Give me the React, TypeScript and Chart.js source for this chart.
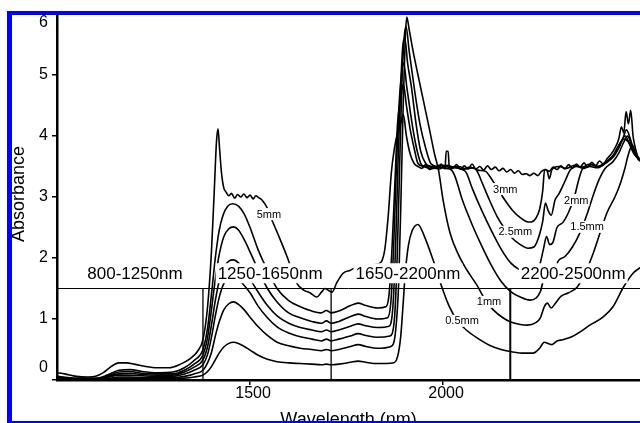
import { useEffect, useRef } from 'react';
import { Chart, registerables } from 'chart.js';

Chart.register(...registerables);

// ---- Data (wavelength nm, absorbance) ----
const curve5mm: number[][] = [
  [1000,0.12],[1020,0.10],[1050,0.06],[1080,0.05],[1100,0.06],[1120,0.12],[1140,0.22],[1160,0.28],[1180,0.28],[1200,0.26],
  [1230,0.22],[1260,0.20],[1290,0.20],[1320,0.26],[1345,0.35],[1365,0.48],[1378,0.66],[1390,1.2],[1400,2.1],[1408,3.2],
  [1413,3.9],[1417,4.12],[1421,3.8],[1426,3.4],[1432,3.15],[1438,3.08],[1445,3.02],[1452,3.06],[1460,2.98],[1468,3.04],
  [1476,3.0],[1484,3.05],[1492,2.99],[1500,3.03],[1508,2.97],[1515,3.02],[1522,2.99],[1531,2.95],[1547,2.79],[1557,2.62],
  [1575,2.35],[1596,2.02],[1621,1.59],[1640,1.47],[1655,1.43],[1673,1.36],[1685,1.44],[1694,1.5],[1703,1.47],[1712,1.44],
  [1725,1.6],[1741,1.75],[1760,1.8],[1775,1.85],[1800,1.88],[1830,1.9],[1848,2.1],[1858,2.7],[1866,3.4],[1874,3.8],
  [1882,4.05],[1890,4.2],[1897,4.35],[1905,4.0],[1915,3.7],[1925,3.55],[1935,3.5],[1945,3.47],[1955,3.53],[1965,3.45],
  [1975,3.51],[1985,3.47],[1995,3.54],[2005,3.46],[2008,3.75],[2013,3.75],[2016,3.5],[2025,3.47],[2035,3.53],[2045,3.46],
  [2055,3.51],[2065,3.46],[2075,3.54],[2085,3.46],[2095,3.5],[2105,3.44],[2115,3.51],[2125,3.45],[2135,3.49],[2145,3.43],
  [2155,3.47],[2165,3.41],[2175,3.45],[2185,3.39],[2195,3.43],[2205,3.37],[2215,3.38],[2225,3.35],[2235,3.39],[2245,3.35],
  [2255,3.42],[2265,3.45],[2275,3.42],[2285,3.49],[2295,3.45],[2305,3.51],[2315,3.46],[2325,3.53],[2335,3.47],[2345,3.54],
  [2355,3.49],[2365,3.56],[2375,3.49],[2385,3.57],[2395,3.51],[2405,3.59],[2415,3.54],[2425,3.63],[2435,3.7],[2445,3.8],
  [2455,3.95],[2462,4.15],[2468,4.05],[2474,4.4],[2480,4.2],[2486,4.42],[2492,4.0],[2498,3.8],[2505,3.65],[2512,3.6],
];

const curve3mm: number[][] = [
  [1000,0.06],[1050,0.03],[1100,0.03],[1130,0.08],[1160,0.16],[1190,0.17],[1220,0.14],[1260,0.12],[1300,0.13],[1330,0.2],
  [1355,0.32],[1378,0.5],[1390,0.85],[1400,1.4],[1410,2.0],[1420,2.45],[1430,2.7],[1442,2.85],[1455,2.89],[1470,2.85],
  [1485,2.72],[1500,2.5],[1520,2.15],[1545,1.8],[1570,1.5],[1600,1.3],[1630,1.2],[1660,1.13],[1685,1.1],[1698,1.14],
  [1710,1.1],[1730,1.13],[1760,1.22],[1780,1.26],[1800,1.22],[1830,1.18],[1852,1.2],[1860,1.4],[1868,2.2],[1875,3.2],
  [1882,4.2],[1890,4.6],[1897,4.85],[1905,4.5],[1915,4.1],[1925,3.8],[1935,3.55],[1950,3.5],[1970,3.46],[1990,3.52],
  [2010,3.47],[2030,3.5],[2050,3.45],[2070,3.49],[2090,3.44],[2110,3.42],[2125,3.3],[2140,3.15],[2160,2.95],[2180,2.78],
  [2200,2.66],[2215,2.6],[2228,2.59],[2240,2.65],[2250,2.8],[2258,3.1],[2263,3.45],[2270,3.42],[2275,3.3],[2282,3.45],
  [2300,3.5],[2320,3.47],[2340,3.52],[2360,3.49],[2380,3.54],[2400,3.5],[2420,3.57],[2440,3.68],[2455,3.85],[2465,3.95],
  [2475,4.1],[2485,3.95],[2495,3.75],[2505,3.62],[2512,3.58],
];

const curve25mm: number[][] = [
  [1000,0.05],[1050,0.02],[1100,0.02],[1130,0.06],[1160,0.13],[1190,0.14],[1220,0.11],[1260,0.1],[1300,0.1],[1330,0.16],
  [1355,0.26],[1378,0.41],[1390,0.7],[1400,1.15],[1410,1.65],[1420,2.05],[1432,2.35],[1445,2.48],[1457,2.51],[1470,2.46],
  [1485,2.3],[1500,2.1],[1520,1.82],[1545,1.5],[1570,1.28],[1600,1.1],[1630,1.02],[1660,0.96],[1685,0.93],[1698,0.97],
  [1710,0.93],[1730,0.96],[1760,1.04],[1780,1.08],[1800,1.04],[1830,1.0],[1856,1.02],[1865,1.3],[1872,2.2],[1878,3.3],
  [1885,4.4],[1892,5.0],[1898,5.2],[1906,4.8],[1915,4.4],[1925,4.0],[1935,3.7],[1945,3.52],[1960,3.5],[1980,3.47],
  [2000,3.52],[2020,3.48],[2040,3.5],[2060,3.46],[2080,3.48],[2090,3.4],[2100,3.25],[2120,2.95],[2140,2.68],[2160,2.48],
  [2180,2.32],[2200,2.22],[2220,2.16],[2235,2.18],[2248,2.35],[2258,2.6],[2265,2.9],[2272,2.78],[2280,2.7],[2290,2.95],
  [2300,3.05],[2315,3.25],[2330,3.45],[2345,3.5],[2365,3.47],[2385,3.53],[2405,3.5],[2425,3.58],[2445,3.7],[2460,3.9],
  [2472,4.0],[2482,3.88],[2495,3.7],[2512,3.6],
];

const curve2mm: number[][] = [
  [1000,0.04],[1050,0.02],[1100,0.02],[1130,0.05],[1160,0.1],[1190,0.11],[1220,0.09],[1260,0.08],[1300,0.08],[1330,0.13],
  [1355,0.21],[1378,0.33],[1390,0.55],[1400,0.9],[1410,1.3],[1420,1.62],[1432,1.85],[1445,1.95],[1457,1.97],[1470,1.92],
  [1485,1.78],[1500,1.65],[1520,1.45],[1545,1.22],[1570,1.05],[1600,0.93],[1630,0.86],[1660,0.82],[1685,0.79],[1698,0.82],
  [1710,0.79],[1730,0.82],[1760,0.88],[1780,0.92],[1800,0.89],[1830,0.86],[1860,0.88],[1870,1.2],[1877,2.2],[1883,3.5],
  [1890,4.8],[1896,5.5],[1901,5.6],[1908,5.2],[1918,4.8],[1930,4.2],[1942,3.75],[1955,3.55],[1970,3.5],[1990,3.46],
  [2010,3.52],[2030,3.48],[2050,3.45],[2060,3.4],[2075,3.15],[2100,2.78],[2125,2.45],[2150,2.15],[2175,1.92],[2200,1.8],
  [2225,1.72],[2240,1.76],[2250,1.88],[2260,2.15],[2268,2.35],[2276,2.22],[2284,2.25],[2295,2.5],[2310,2.58],[2325,2.75],
  [2340,3.0],[2352,3.3],[2362,3.47],[2380,3.5],[2400,3.48],[2420,3.55],[2440,3.65],[2455,3.8],[2468,3.95],[2480,3.9],
  [2492,3.75],[2505,3.65],[2512,3.6],
];

const curve15mm: number[][] = [
  [1000,0.03],[1050,0.01],[1100,0.01],[1130,0.04],[1160,0.08],[1190,0.08],[1220,0.07],[1260,0.06],[1300,0.06],[1330,0.1],
  [1355,0.16],[1378,0.25],[1390,0.42],[1400,0.7],[1410,1.05],[1420,1.35],[1432,1.58],[1445,1.68],[1457,1.7],[1470,1.65],
  [1485,1.55],[1500,1.43],[1520,1.22],[1545,1.02],[1570,0.87],[1600,0.77],[1630,0.71],[1660,0.67],[1685,0.64],[1698,0.67],
  [1710,0.64],[1730,0.67],[1760,0.72],[1780,0.76],[1800,0.73],[1830,0.7],[1862,0.72],[1874,1.0],[1881,2.0],[1887,3.4],
  [1893,4.8],[1899,5.6],[1904,5.8],[1912,5.4],[1925,4.8],[1940,4.2],[1955,3.8],[1968,3.55],[1985,3.5],[2005,3.47],
  [2020,3.45],[2030,3.35],[2050,2.95],[2075,2.55],[2100,2.2],[2125,1.88],[2150,1.62],[2175,1.45],[2200,1.36],[2225,1.31],
  [2240,1.34],[2252,1.45],[2262,1.7],[2270,1.82],[2278,1.7],[2287,1.74],[2298,1.95],[2315,2.02],[2335,2.18],[2355,2.42],
  [2373,2.72],[2390,3.05],[2405,3.3],[2420,3.47],[2440,3.58],[2455,3.72],[2468,3.9],[2478,4.0],[2490,3.8],[2502,3.65],
  [2512,3.6],
];

const curve1mm: number[][] = [
  [1000,0.02],[1050,0.01],[1100,0.0],[1130,0.02],[1160,0.05],[1190,0.05],[1220,0.04],[1260,0.04],[1300,0.04],[1330,0.06],
  [1355,0.1],[1378,0.16],[1390,0.28],[1400,0.45],[1410,0.72],[1420,0.95],[1432,1.15],[1445,1.25],[1457,1.28],[1470,1.24],
  [1485,1.15],[1500,1.03],[1520,0.88],[1545,0.73],[1570,0.62],[1600,0.56],[1630,0.52],[1660,0.5],[1685,0.48],[1698,0.5],
  [1710,0.48],[1730,0.5],[1760,0.55],[1780,0.58],[1800,0.55],[1830,0.52],[1865,0.55],[1877,0.8],[1885,1.6],[1891,3.0],
  [1897,4.6],[1902,5.6],[1906,5.95],[1912,5.75],[1922,5.4],[1935,5.0],[1950,4.55],[1965,4.1],[1978,3.7],[1988,3.45],
  [2000,2.95],[2018,2.41],[2040,2.05],[2060,1.82],[2088,1.55],[2110,1.3],[2130,1.15],[2155,1.02],[2175,0.95],[2200,0.91],
  [2218,0.9],[2240,0.94],[2252,1.02],[2262,1.2],[2270,1.26],[2280,1.18],[2290,1.25],[2305,1.37],[2325,1.43],[2347,1.52],
  [2370,1.78],[2390,2.1],[2406,2.4],[2425,2.75],[2445,3.0],[2458,3.2],[2470,3.45],[2480,3.7],[2490,3.85],[2500,3.7],
  [2512,3.6],
];

const curve05mm: number[][] = [
  [1000,0.01],[1050,0.0],[1100,0.0],[1130,0.01],[1160,0.03],[1190,0.03],[1220,0.02],[1260,0.02],[1300,0.02],[1330,0.03],
  [1355,0.05],[1378,0.08],[1390,0.14],[1400,0.22],[1410,0.33],[1420,0.44],[1432,0.54],[1445,0.6],[1457,0.62],[1470,0.6],
  [1485,0.55],[1500,0.49],[1520,0.41],[1545,0.34],[1570,0.3],[1600,0.28],[1630,0.27],[1660,0.26],[1685,0.25],[1698,0.26],
  [1710,0.25],[1730,0.26],[1760,0.29],[1780,0.31],[1800,0.29],[1830,0.27],[1870,0.28],[1882,0.38],[1890,0.7],[1896,1.2],
  [1902,1.75],[1910,2.2],[1920,2.45],[1935,2.55],[1950,2.38],[1974,1.97],[1997,1.52],[2015,1.22],[2036,0.98],[2060,0.82],
  [2088,0.69],[2120,0.57],[2150,0.5],[2180,0.46],[2210,0.44],[2233,0.44],[2250,0.52],[2262,0.62],[2272,0.6],[2282,0.58],
  [2295,0.64],[2310,0.66],[2330,0.7],[2355,0.79],[2380,0.9],[2414,1.03],[2440,1.2],[2467,1.52],[2492,1.75],[2512,1.85],
];

// Curve labels
const curveLabelText = ['5mm', '3mm', '2.5mm', '2mm', '1.5mm', '1mm', '0.5mm'];
const curveLabelWl = [1549, 2161, 2187, 2345, 2373, 2119, 2049];
const curveLabelAbs = [2.72, 3.13, 2.43, 2.95, 2.51, 1.28, 0.97];

// Region labels and dividers
const regionLabelText = ['800-1250nm', '1250-1650nm', '1650-2200nm', '2200-2500nm'];
const regionLabelWl = [1202, 1552, 1909, 2337];
const regionLabelAbs = 1.75;
const dividerWl = [1378, 1710, 2174];
const dividerAbs = 1.5;

// Axes
const xMin = 1000;
const xMax = 2510;
const xTickValues = [1500, 2000];
const yTickValues = [0, 1, 2, 3, 4, 5, 6];

const FONT = '"Liberation Sans", Arial, Helvetica, sans-serif';

export default function App() {
  const ref = useRef<HTMLCanvasElement>(null);

  useEffect(() => {
    const canvas = ref.current;
    if (!canvas) return;
    const curves = [curve5mm, curve3mm, curve25mm, curve2mm, curve15mm, curve1mm, curve05mm];
    const datasets: any[] = curves.map((c) => ({
      data: c.map((p) => ({ x: p[0], y: p[1] })),
      borderColor: '#000',
      borderWidth: 1.6,
      pointRadius: 0,
      fill: false,
      cubicInterpolationMode: 'monotone',
    }));
    datasets.push({
      data: [{ x: xMin, y: dividerAbs }, { x: xMax, y: dividerAbs }],
      borderColor: '#000',
      borderWidth: 1,
      pointRadius: 0,
      fill: false,
    });
    dividerWl.forEach((w, i) => {
      datasets.push({
        data: [{ x: w, y: 0 }, { x: w, y: dividerAbs }],
        borderColor: '#000',
        borderWidth: i === 2 ? 2 : 1.3,
        pointRadius: 0,
        fill: false,
      });
    });

    const annot = {
      id: 'annot',
      afterDatasetsDraw(chart: any) {
        const ctx = chart.ctx;
        const xs = chart.scales.x;
        const ys = chart.scales.y;
        ctx.save();
        ctx.textAlign = 'center';
        ctx.textBaseline = 'middle';
        ctx.font = `17px ${FONT}`;
        regionLabelText.forEach((t, i) => {
          const px = xs.getPixelForValue(regionLabelWl[i]);
          const py = ys.getPixelForValue(regionLabelAbs);
          const w = ctx.measureText(t).width;
          ctx.fillStyle = '#fff';
          ctx.fillRect(px - w / 2 - 2, py - 10, w + 4, 20);
          ctx.fillStyle = '#000';
          ctx.fillText(t, px, py + 1);
        });
        ctx.font = `11px ${FONT}`;
        curveLabelText.forEach((t, i) => {
          const px = xs.getPixelForValue(curveLabelWl[i]);
          const py = ys.getPixelForValue(curveLabelAbs[i]);
          const w = ctx.measureText(t).width;
          ctx.fillStyle = '#fff';
          ctx.fillRect(px - w / 2 - 1, py - 6, w + 2, 12);
          ctx.fillStyle = '#000';
          ctx.fillText(t, px, py + 0.5);
        });
        ctx.restore();
      },
      afterDraw(chart: any) {
        const ctx = chart.ctx;
        const xs = chart.scales.x;
        const ys = chart.scales.y;
        const area = chart.chartArea;
        ctx.save();
        ctx.fillStyle = '#000';
        ctx.font = `16px ${FONT}`;
        ctx.textAlign = 'right';
        ctx.textBaseline = 'middle';
        yTickValues.forEach((v) => {
          let py = ys.getPixelForValue(v);
          py = Math.min(Math.max(py, area.top + 9), area.bottom - 12);
          ctx.fillText(String(v), area.left - 9, py);
        });
        ctx.textAlign = 'center';
        xTickValues.forEach((v) => {
          const px = xs.getPixelForValue(v);
          ctx.fillText(String(v), px + 3, area.bottom + 14);
        });
        ctx.font = `18px ${FONT}`;
        ctx.textBaseline = 'alphabetic';
        ctx.fillText('Wavelength (nm)', (area.left + area.right) / 2, area.bottom + 45);
        ctx.translate(23.5, (area.top + area.bottom) / 2 - 3);
        ctx.rotate(-Math.PI / 2);
        ctx.fillText('Absorbance', 0, 0);
        ctx.restore();
      },
    };

    const chart = new Chart(canvas, {
      type: 'line',
      data: { datasets },
      options: {
        animation: false,
        responsive: false,
        maintainAspectRatio: false,
        events: [],
        layout: { padding: { top: 14, left: 0, right: 0, bottom: 0 } },
        plugins: { legend: { display: false }, tooltip: { enabled: false }, title: { display: false } },
        scales: {
          x: {
            type: 'linear',
            min: xMin,
            max: xMax,
            afterBuildTicks: (s: any) => {
              s.ticks = xTickValues.map((v) => ({ value: v }));
            },
            afterFit: (s: any) => {
              s.height = 43;
            },
            ticks: { display: false },
            grid: { drawOnChartArea: false, drawTicks: true, tickLength: 5, color: '#000', lineWidth: 1.5 },
            border: { display: true, color: '#000', width: 2.5 },
          },
          y: {
            type: 'linear',
            min: 0,
            max: 6,
            afterBuildTicks: (s: any) => {
              s.ticks = yTickValues.map((v) => ({ value: v }));
            },
            afterFit: (s: any) => {
              s.width = 57;
            },
            ticks: { display: false },
            grid: { drawOnChartArea: false, drawTicks: true, tickLength: 5, color: '#000', lineWidth: 1.5 },
            border: { display: true, color: '#000', width: 2.5 },
          },
        },
      },
      plugins: [annot],
    });
    return () => chart.destroy();
  }, []);

  return (
    <div style={{ position: 'fixed', left: 0, top: 0, width: 640, height: 423, background: '#fff', overflow: 'hidden' }}>
      <canvas ref={ref} width={640} height={423} style={{ display: 'block', width: 640, height: 423 }} />
      <div
        style={{
          position: 'absolute',
          left: 7,
          top: 11,
          width: 700,
          height: 415,
          boxSizing: 'border-box',
          borderStyle: 'solid',
          borderColor: '#0000ff',
          borderWidth: '4px 5px 5px 5px',
          pointerEvents: 'none',
        }}
      />
    </div>
  );
}
